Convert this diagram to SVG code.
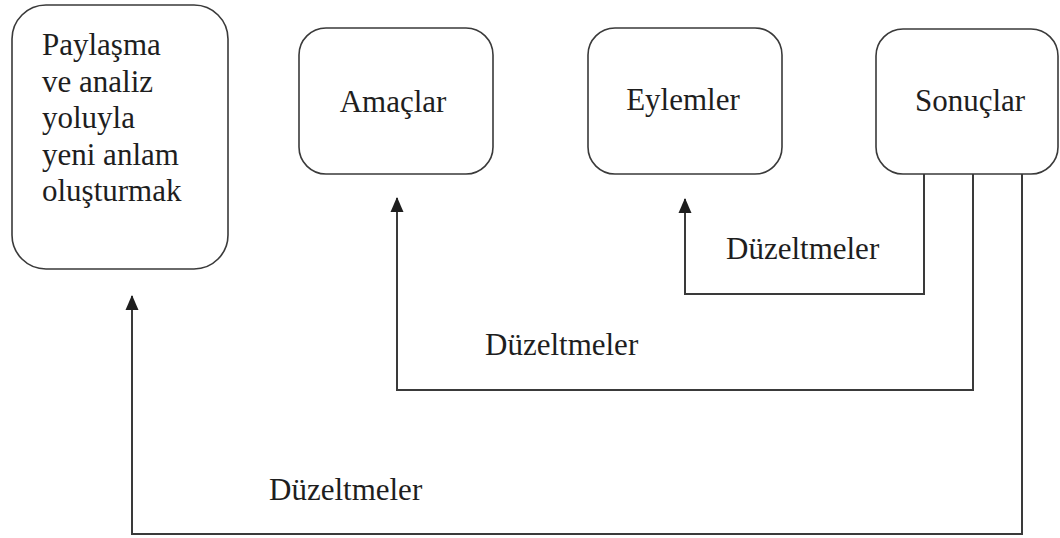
<svg xmlns="http://www.w3.org/2000/svg" width="1060" height="538" viewBox="0 0 1060 538">
  <style>
    .box { fill: #ffffff; stroke: #3a3a3a; stroke-width: 1.6; }
    .lbl { font-family: "Liberation Serif", "Times New Roman", serif; font-size: 31px; fill: #1e1e1e; }
    .wire { fill: none; stroke: #3a3a3a; stroke-width: 2; }
  </style>
  <defs>
    <marker id="arrow" markerUnits="userSpaceOnUse" markerWidth="14" markerHeight="16" viewBox="0 0 14 16" refX="7" refY="1" orient="0">
      <path d="M7 0 L13.5 15 L0.5 15 Z" fill="#1e1e1e"/>
    </marker>
  </defs>
  <rect width="1060" height="538" fill="#ffffff"/>

  <g id="node-paylasma">
    <rect class="box" x="12" y="5" width="216" height="264" rx="34" ry="34"/>
    <text class="lbl" x="42" y="55">Paylaşma</text>
    <text class="lbl" x="42" y="91.5">ve analiz</text>
    <text class="lbl" x="42" y="128">yoluyla</text>
    <text class="lbl" x="42" y="164.5">yeni anlam</text>
    <text class="lbl" x="42" y="201">oluşturmak</text>
  </g>

  <g id="node-amaclar">
    <rect class="box" x="299" y="28" width="194" height="146" rx="27" ry="27"/>
    <text class="lbl" x="393" y="112" text-anchor="middle">Amaçlar</text>
  </g>

  <g id="node-eylemler">
    <rect class="box" x="588" y="28" width="194" height="146" rx="27" ry="27"/>
    <text class="lbl" x="683" y="110" text-anchor="middle">Eylemler</text>
  </g>

  <g id="node-sonuclar">
    <rect class="box" x="876" y="29" width="182" height="145" rx="27" ry="27"/>
    <text class="lbl" x="970" y="111" text-anchor="middle">Sonuçlar</text>
  </g>

  <g id="connectors">
    <!-- Sonuçlar back to Eylemler -->
    <path class="wire" d="M924 174 V294 H685 V199" marker-end="url(#arrow)"/>
    <!-- Sonuçlar back to Amaçlar -->
    <path class="wire" d="M973 174 V390 H397 V198" marker-end="url(#arrow)"/>
    <!-- Sonuçlar back to the first box -->
    <path class="wire" d="M1022 174 V534 H132 V296" marker-end="url(#arrow)"/>
    <text class="lbl" x="726" y="259">Düzeltmeler</text>
    <text class="lbl" x="485" y="355">Düzeltmeler</text>
    <text class="lbl" x="269" y="500">Düzeltmeler</text>
  </g>
</svg>
